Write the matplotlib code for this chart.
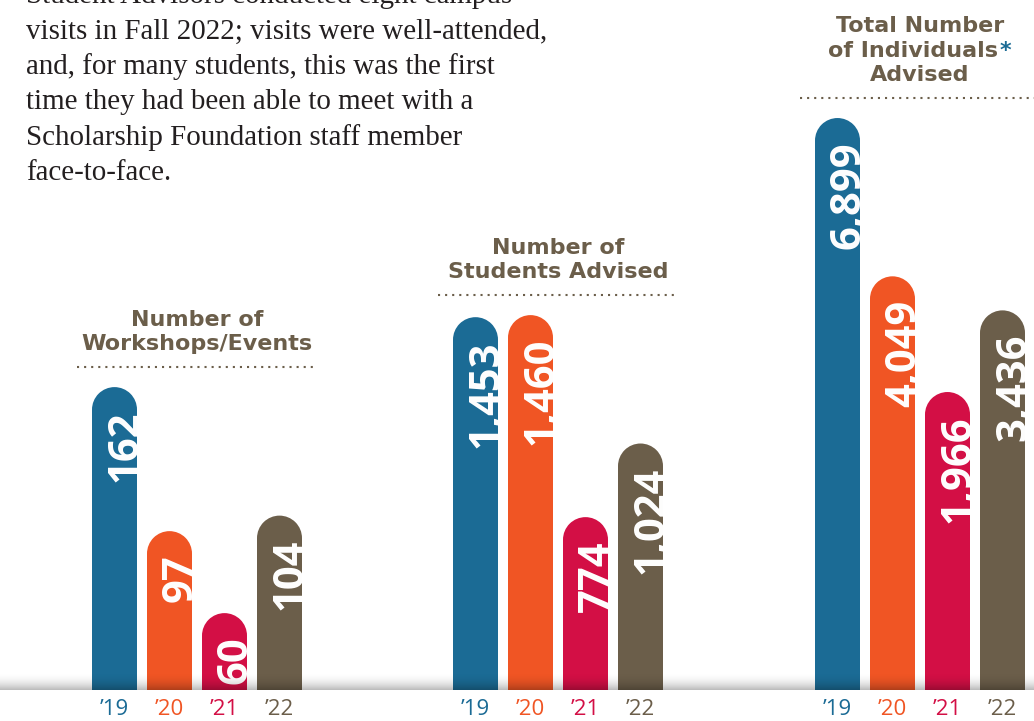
import numpy as np
from matplotlib import pyplot as plt
from matplotlib.patches import Ellipse
from matplotlib.transforms import offset_copy
from matplotlib.offsetbox import TextArea, VPacker, HPacker, AnnotationBbox

years = ["\u201919", "\u201920", "\u201921", "\u201922"]
workshops = [162, 97, 60, 104]
students = [1453, 1460, 774, 1024]
individuals = [6899, 4049, 1966, 3436]

titles = [["Number of", "Workshops/Events"],
          ["Number of", "Students Advised"],
          ["Total Number", "of Individuals", "Advised"]]

intro = ["Student Advisors conducted eight campus",
         "visits in Fall 2022; visits were well-attended,",
         "and, for many students, this was the first",
         "time they had been able to meet with a",
         "Scholarship Foundation staff member",
         "face-to-face."]

colors = ["#1b6b95", "#f05524", "#d30f45", "#6b5e4a"]
brown = "#6b5e4a"
blue = "#1b6b95"

W, H = 1034, 721
fig = plt.figure(figsize=(W / 100, H / 100), dpi=100)


def px_rect(x, y, w, h):
    # pixel box (from top-left) -> figure fraction
    return [x / W, 1 - (y + h) / H, w / W, h / H]


def pts(p):
    return p * 72 / 100


# each panel: data, left pixel, y-limits (bars share a floor that is not zero)
panels = [(workshops, 87, (25.3, 336.7)),
          (students, 448, (187, 2530)),
          (individuals, 810, (-3399, 9024))]

bw = 45 / 55

# intro paragraph, cut off at the top
for k, line in enumerate(intro):
    fig.text(26 / W, 1 - (3 + 35.4 * k) / H, line, va="baseline", ha="left",
             fontsize=20.9, family="Liberation Serif", color="#231f20")

for n, (vals, left, ylim) in enumerate(panels):
    ax = fig.add_axes(px_rect(left, 0, 220, 690))
    ax.set_xlim(-0.5, 3.5)
    ax.set_ylim(*ylim)
    ax.patch.set_visible(False)
    for s in ax.spines.values():
        s.set_visible(False)
    ax.set_yticks([])
    ax.set_xticks(range(4), years)
    ax.tick_params(axis="x", length=0, pad=6.5, labelsize=16)
    for lbl, c in zip(ax.get_xticklabels(), colors):
        lbl.set_color(c)
        lbl.set_family("Open Sans")

    # how many y units make one x unit on screen, for round caps
    p0 = ax.transData.transform((0, 0))
    p1 = ax.transData.transform((1, 1))
    aspect = (p1[0] - p0[0]) / (p1[1] - p0[1])
    ry = bw / 2 * aspect

    lo = ylim[0]
    for i, v in enumerate(vals):
        ax.bar(i, v - ry - lo, bottom=lo, width=bw, color=colors[i], linewidth=0)
        ax.add_patch(Ellipse((i, v - ry), bw, 2 * ry, color=colors[i], linewidth=0))
        ax.annotate(f"{v:,}", xy=(i + bw / 2, v), xytext=(0, pts(-23)),
                    textcoords="offset points", rotation=90, rotation_mode="anchor",
                    ha="right", va="baseline", color="white", fontsize=30,
                    fontweight="bold", family="Open Sans")

    vmax = max(vals)
    dot_tr = offset_copy(ax.transData, fig=fig, y=20, units="dots")
    ax.plot([-0.68, 3.68], [vmax, vmax], transform=dot_tr, clip_on=False,
            color=brown, lw=1.5, ls=(0, (1, 2.4)))

    tp = dict(color=brown, fontsize=16, fontweight="bold", family="DejaVu Sans")
    rows = []
    for line in titles[n]:
        if line == "of Individuals":
            rows.append(HPacker(children=[TextArea(line, textprops=tp),
                                          TextArea("*", textprops=dict(tp, color=blue))],
                                align="baseline", pad=0, sep=1))
        else:
            rows.append(TextArea(line, textprops=tp))
    box = VPacker(children=rows, align="center", pad=0, sep=pts(4.5))
    ab = AnnotationBbox(box, (1.5, vmax), xybox=(0, pts(33)), xycoords="data",
                        boxcoords="offset points", box_alignment=(0.5, 0),
                        frameon=False, pad=0, annotation_clip=False)
    ax.add_artist(ab)

# soft grey shadow along the floor line
sax = fig.add_axes(px_rect(0, 672, W, 18))
sax.axis("off")
grad = np.zeros((40, 1, 4))
grad[..., 3] = (np.linspace(0, 1, 40) ** 2 * 0.27)[:, None]
sax.imshow(grad, aspect="auto", extent=(0, 1, 0, 1), interpolation="bilinear")
sax.set_zorder(5)

fig.savefig("out.png", dpi=100)
